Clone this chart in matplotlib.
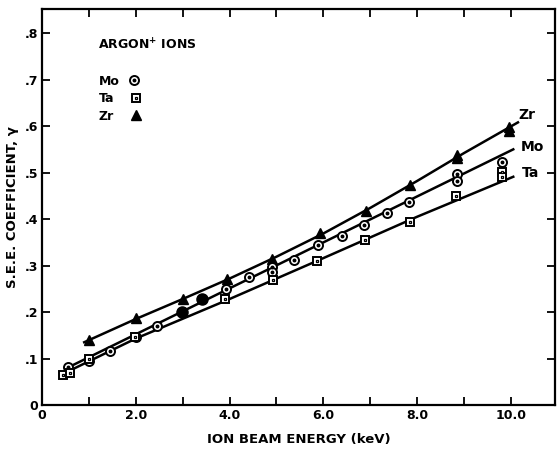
import numpy as np
import matplotlib
matplotlib.use("Agg")
import matplotlib.pyplot as plt

zr_x = [1.0, 2.0, 3.0, 3.95, 4.9, 5.93, 6.9, 7.85, 8.84, 8.84, 9.95, 9.95]
zr_y = [0.140, 0.188, 0.228, 0.271, 0.315, 0.369, 0.418, 0.473, 0.538, 0.531, 0.598, 0.590]

mo_x = [0.56, 1.0, 1.45, 2.0, 2.46, 3.92, 4.41, 4.9, 4.9, 5.38, 5.89, 6.39, 6.87, 7.35, 7.83, 8.86, 8.86, 9.81]
mo_y = [0.081, 0.094, 0.117, 0.147, 0.170, 0.249, 0.275, 0.297, 0.287, 0.313, 0.344, 0.363, 0.387, 0.414, 0.437, 0.496, 0.482, 0.523]

ta_x = [0.45, 0.6, 1.01, 1.98, 3.9, 4.92, 5.86, 6.89, 7.84, 8.83, 9.8, 9.8]
ta_y = [0.065, 0.068, 0.100, 0.147, 0.227, 0.269, 0.310, 0.356, 0.394, 0.449, 0.502, 0.491]

# overlapping points that print as solid blobs
blob_x = [2.98, 3.42]
blob_y = [0.201, 0.229]

# hand-drawn fit curves
zr_fit_x = [0.9, 2.0, 3.0, 4.0, 5.0, 6.0, 7.0, 8.0, 9.0, 10.15]
zr_fit_y = [0.135, 0.185, 0.228, 0.272, 0.319, 0.369, 0.424, 0.482, 0.542, 0.608]
mo_fit_x = [0.5, 10.05]
mo_fit_y = [0.078, 0.550]
ta_fit_x = [0.45, 2.0, 4.0, 6.0, 8.0, 10.05]
ta_fit_y = [0.067, 0.143, 0.228, 0.316, 0.405, 0.491]

x_ticks = [0, 1, 2, 3, 4, 5, 6, 7, 8, 9, 10]
x_labels = ["0", "", "2.0", "", "4.0", "", "6.0", "", "8.0", "", "10.0"]
y_ticks = [0, 0.1, 0.2, 0.3, 0.4, 0.5, 0.6, 0.7, 0.8]
y_labels = ["0", ".1", ".2", ".3", ".4", ".5", ".6", ".7", ".8"]

plt.rcParams['font.family'] = ['DejaVu Sans']
plt.rcParams['font.weight'] = 'bold'

fig = plt.figure(figsize=(5.57, 4.49), dpi=100)
ax = fig.add_axes([0.0754, 0.098, 0.921, 0.882])

ax.plot(zr_fit_x, zr_fit_y, color='black', lw=1.8)
ax.plot(mo_fit_x, mo_fit_y, color='black', lw=1.8)
ax.plot(ta_fit_x, ta_fit_y, color='black', lw=1.8)

h_zr, = ax.plot(zr_x, zr_y, ls='none', marker='^', ms=7, color='black')
h_mo1, = ax.plot(mo_x, mo_y, ls='none', marker='o', ms=6.5, mfc='white', mec='black', mew=1.4)
h_mo2, = ax.plot(mo_x, mo_y, ls='none', marker='o', ms=1.8, color='black')
h_ta1, = ax.plot(ta_x, ta_y, ls='none', marker='s', ms=6, mfc='white', mec='black', mew=1.4)
h_ta2, = ax.plot(ta_x, ta_y, ls='none', marker='s', ms=2, mfc='white', mec='black', mew=0.9)
ax.plot(blob_x, blob_y, ls='none', marker='o', ms=8, color='black')

ax.text(10.15, 0.624, "Zr", fontsize=10, fontweight='bold', ha='left', va='center')
ax.text(10.2, 0.555, "Mo", fontsize=10, fontweight='bold', ha='left', va='center')
ax.text(10.23, 0.500, "Ta", fontsize=10, fontweight='bold', ha='left', va='center')

leg = ax.legend([(h_mo1, h_mo2), (h_ta1, h_ta2), h_zr], ["Mo", "Ta", "Zr"],
                title="ARGON$^{+}$ IONS", loc='upper left', bbox_to_anchor=(0.088, 0.957),
                frameon=False, markerfirst=False, handlelength=1.2, handletextpad=0.6,
                labelspacing=0.35, prop={'size': 9, 'weight': 'bold'},
                title_fontproperties={'size': 9, 'weight': 'bold'}, alignment='left')
leg._legend_box.sep = 16

ax.set_xlim(0, 10.94)
ax.set_ylim(0, 0.852)
ax.set_xticks(x_ticks)
ax.set_xticklabels(x_labels)
ax.set_yticks(y_ticks)
ax.set_yticklabels(y_labels)
ax.tick_params(direction='in', top=True, right=True, length=6, width=1.3,
               labelsize=9, pad=3)
for s in ax.spines.values():
    s.set_linewidth(1.6)

ax.set_xlabel("ION BEAM ENERGY (keV)", fontsize=9.5, fontweight='bold', labelpad=8)
ax.set_ylabel("S.E.E. COEFFICIENT, γ", fontsize=9.5, fontweight='bold', labelpad=4)

# left-align legend labels, keep markers in one column
fig.canvas.draw()
r = fig.canvas.get_renderer()
col = leg._legend_handle_box.get_children()[0]
col.align = 'left'
widths = [t.get_window_extent(r).width for t in leg.texts]
for box, w in zip(col.get_children(), widths):
    box.sep += max(widths) - w

fig.savefig("out.png", dpi=100)
